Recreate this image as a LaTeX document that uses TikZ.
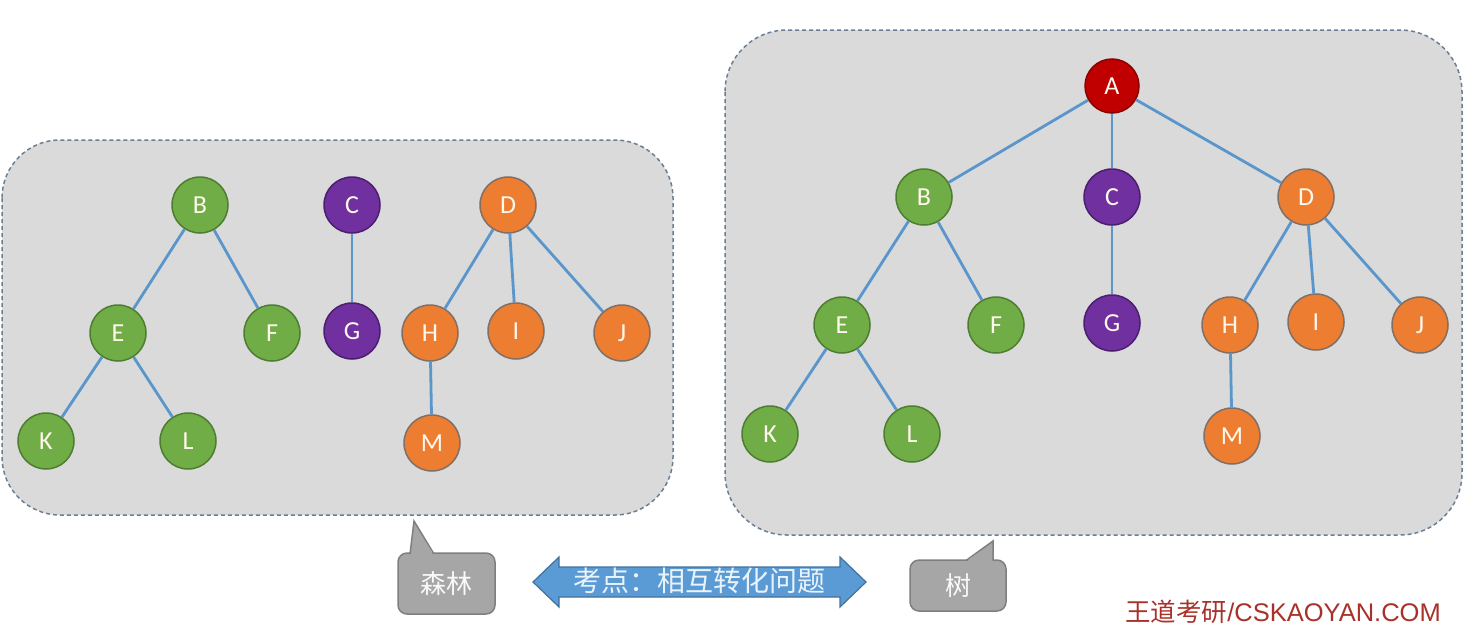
\documentclass[tikz,border=0pt]{standalone}
\usepackage{fontspec}
\setmainfont{Carlito}
\newfontfamily\cjk{Noto Sans CJK SC}
\newfontfamily\arialf{Liberation Sans}
\definecolor{boxfill}{HTML}{DADADA}
\definecolor{boxline}{HTML}{6A7F94}
\definecolor{edgec}{HTML}{5A96CC}
\definecolor{greenf}{HTML}{70AD47}
\definecolor{greenb}{HTML}{4E7D32}
\definecolor{purpf}{HTML}{7030A0}
\definecolor{purpb}{HTML}{4B1F6E}
\definecolor{orangef}{HTML}{ED7D31}
\definecolor{orangeb}{HTML}{7F6F66}
\definecolor{redf}{HTML}{C00000}
\definecolor{redb}{HTML}{8B0000}
\definecolor{callf}{HTML}{A6A6A6}
\definecolor{callb}{HTML}{7F7F7F}
\definecolor{arrowf}{HTML}{5B9BD5}
\definecolor{arrowb}{HTML}{41719C}
\definecolor{markc}{HTML}{A8322A}
\definecolor{lettc}{HTML}{FFF8EC}
\tikzset{
  tnode/.style={circle, minimum size=56pt, inner sep=0pt, line width=1.5pt,
    text=lettc, font=\fontsize{26}{26}\selectfont},
  gn/.style={tnode, fill=greenf, draw=greenb},
  pn/.style={tnode, fill=purpf, draw=purpb},
  on/.style={tnode, fill=orangef, draw=orangeb},
  rn/.style={tnode, fill=redf, draw=redb, minimum size=54pt},
  edge/.style={draw=edgec, line width=2.8pt},
  panel/.style={fill=boxfill, draw=boxline, line width=1.5pt, dash pattern=on 4pt off 3pt},
  callout/.style={rectangle, rounded corners=9pt, fill=callf, draw=callb, line width=1.5pt,
    text=white!95!gray, font=\cjk\fontsize{26}{26}\selectfont},
  tailfill/.style={fill=callf},
  tailline/.style={draw=callb, line width=1.5pt, line join=miter},
}
\begin{document}
\begin{tikzpicture}[x=1pt,y=-1pt]
\useasboundingbox (0,0) rectangle (1474,635);
% panels
\draw[panel, rounded corners=58pt] (2,140) rectangle (673,515);
\draw[panel, rounded corners=62pt] (725,30) rectangle (1462,535);
% left forest
\node[gn] (lB) at (200,205) {B};
\node[pn] (lC) at (352,205) {C};
\node[on] (lD) at (508,205) {D};
\node[gn] (lE) at (118,333) {E};
\node[gn] (lF) at (272,333) {F};
\node[pn] (lG) at (352,331) {G};
\node[on] (lH) at (430,333) {H};
\node[on] (lI) at (516,331) {I};
\node[on] (lJ) at (622,333) {J};
\node[gn] (lK) at (46,441) {K};
\node[gn] (lL) at (188,441) {L};
\node[on] (lM) at (432,443) {M};
\draw[edge] (lB) -- (lE);
\draw[edge] (lB) -- (lF);
\draw[edge] (lE) -- (lK);
\draw[edge] (lE) -- (lL);
\draw[edge] (lC) -- (lG);
\draw[edge] (lD) -- (lH);
\draw[edge] (lD) -- (lI);
\draw[edge] (lD) -- (lJ);
\draw[edge] (lH) -- (lM);
% right tree
\node[rn] (rA) at (1112,86) {A};
\node[gn] (rB) at (924,197) {B};
\node[pn] (rC) at (1112,197) {C};
\node[on] (rD) at (1306,197) {D};
\node[gn] (rE) at (842,325) {E};
\node[gn] (rF) at (996,325) {F};
\node[pn] (rG) at (1112,323) {G};
\node[on] (rH) at (1230,325) {H};
\node[on] (rI) at (1316,322) {I};
\node[on] (rJ) at (1420,325) {J};
\node[gn] (rK) at (770,434) {K};
\node[gn] (rL) at (912,434) {L};
\node[on] (rM) at (1232,436) {M};
\draw[edge] (rA) -- (rB);
\draw[edge] (rA) -- (rC);
\draw[edge] (rA) -- (rD);
\draw[edge] (rB) -- (rE);
\draw[edge] (rB) -- (rF);
\draw[edge] (rE) -- (rK);
\draw[edge] (rE) -- (rL);
\draw[edge] (rC) -- (rG);
\draw[edge] (rD) -- (rH);
\draw[edge] (rD) -- (rI);
\draw[edge] (rD) -- (rJ);
\draw[edge] (rH) -- (rM);
% callouts
\node[callout, minimum width=97pt, minimum height=61pt] (forest) at (446.5,583.5) {森林};
\coordinate (ftip) at (414,521);
\fill[tailfill] (410,556) -- (ftip) -- (434,556) -- cycle;
\draw[tailline] (410,554) -- (ftip) -- (434,554);
\node[callout, minimum width=96pt, minimum height=51pt] (tree) at (958,585.5) {树};
\coordinate (ttip) at (993,541);
\fill[tailfill] (966,562) -- (ttip) -- (993,562) -- cycle;
\draw[tailline] (966,560.5) -- (ttip) -- (993,560.5);
% double arrow
\draw[fill=arrowf, draw=arrowb, line width=1.2pt, line join=miter]
  (533,582) -- (559,557) -- (559,567) -- (840,567) -- (840,557) -- (866,582)
  -- (840,607) -- (840,597) -- (559,597) -- (559,607) -- cycle;
\node[font=\cjk\fontsize{28}{28}\selectfont, text=white!88!arrowf, inner sep=0pt] (topic) at (699,581) {考点：相互转化问题};
% watermark
\node[anchor=east, inner sep=0pt, text=markc, font=\fontsize{25.5}{25.5}\selectfont] (mark) at (1441,612) {{\cjk 王道考研}{\arialf /CSKAOYAN.COM}};
\end{tikzpicture}
\end{document}
